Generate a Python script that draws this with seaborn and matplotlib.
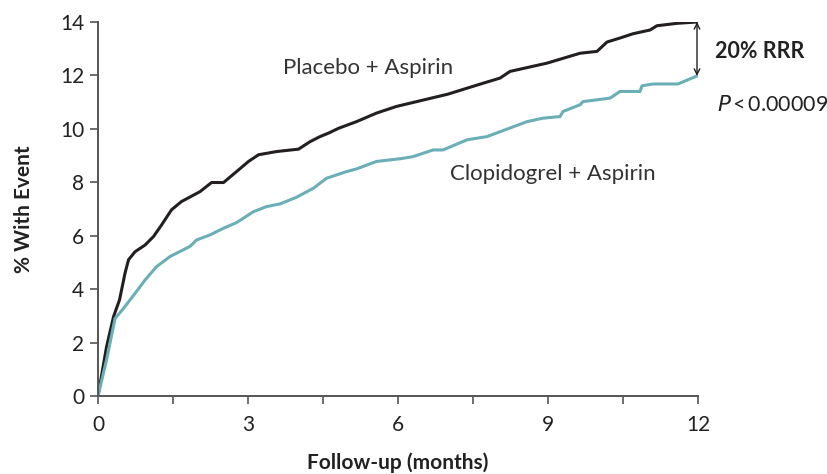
import pandas as pd
import numpy as np
import matplotlib.pyplot as plt
import seaborn as sns

# Kaplan-Meier style cumulative event curves
placebo_months = [0, 0.17, 0.31, 0.43, 0.54, 0.61, 0.74, 0.94, 1.11, 1.27, 1.47, 1.67,
                  2.04, 2.27, 2.51, 2.77, 3.01, 3.21, 3.57, 4.01, 4.24, 4.44, 4.61,
                  4.81, 5.17, 5.57, 5.97, 6.24, 7.0, 7.6, 8.04, 8.24, 8.98, 9.64,
                  9.98, 10.18, 10.44, 10.7, 11.04, 11.18, 11.58, 11.98]
placebo_pct = [0, 1.84, 2.97, 3.6, 4.6, 5.1, 5.4, 5.65, 5.97, 6.4, 6.97, 7.28,
               7.65, 7.99, 7.99, 8.4, 8.78, 9.03, 9.15, 9.24, 9.52, 9.71, 9.84,
               10.02, 10.27, 10.59, 10.84, 10.96, 11.3, 11.65, 11.9, 12.15, 12.46, 12.83,
               12.9, 13.25, 13.4, 13.56, 13.7, 13.86, 13.95, 14.0]

clopi_months = [0, 0.17, 0.34, 0.51, 0.74, 0.94, 1.17, 1.44, 1.84, 1.97, 2.24, 2.51, 2.77,
                3.11, 3.37, 3.64, 3.97, 4.31, 4.57, 4.97, 5.17, 5.57, 6.04, 6.3,
                6.7, 6.9, 7.38, 7.78, 8.58, 8.9, 9.24, 9.3, 9.64, 9.7, 10.24,
                10.44, 10.84, 10.88, 11.1, 11.6, 11.98]
clopi_pct = [0, 1.35, 2.9, 3.28, 3.84, 4.34, 4.84, 5.22, 5.6, 5.84, 6.03, 6.28, 6.49,
             6.9, 7.09, 7.19, 7.44, 7.78, 8.15, 8.4, 8.5, 8.78, 8.88, 8.96,
             9.21, 9.21, 9.59, 9.71, 10.27, 10.4, 10.46, 10.65, 10.9, 11.02, 11.15,
             11.4, 11.4, 11.61, 11.68, 11.68, 11.98]

x_ticks = [0, 1.5, 3, 4.5, 6, 7.5, 9, 10.5, 12]
x_tick_labels = ["0", "", "3", "", "6", "", "9", "", "12"]
y_ticks = [0, 2, 4, 6, 8, 10, 12, 14]

df = pd.concat([
    pd.DataFrame({"month": placebo_months, "pct": placebo_pct, "arm": "Placebo + Aspirin"}),
    pd.DataFrame({"month": clopi_months, "pct": clopi_pct, "arm": "Clopidogrel + Aspirin"}),
])

sns.set_style("ticks")
plt.rcParams['font.family'] = ['Lato', 'DejaVu Sans']

dark = "#231f20"
teal = "#6aafb6"
axis_grey = "#555555"

fig = plt.figure(figsize=(8.28, 4.74), dpi=100)
ax = fig.add_axes([0.1184, 0.1646, 0.7246, 0.789])

sns.lineplot(data=df, x="month", y="pct", hue="arm",
             palette={"Placebo + Aspirin": dark, "Clopidogrel + Aspirin": teal},
             linewidth=2.2, legend=False, ax=ax, estimator=None, sort=False)

ax.set_xlim(0, 12)
ax.set_ylim(0, 14)
ax.set_xticks(x_ticks)
ax.set_xticklabels(x_tick_labels)
ax.set_yticks(y_ticks)
ax.tick_params(axis="both", labelsize=15, colors=axis_grey, labelcolor="#222222",
               length=6, width=1.2, direction="out")
ax.tick_params(axis="x", pad=8)
ax.tick_params(axis="y", pad=4)
for side in ["top", "right"]:
    ax.spines[side].set_visible(False)
for side in ["left", "bottom"]:
    ax.spines[side].set_color(axis_grey)
    ax.spines[side].set_linewidth(1.4)

ax.set_xlabel("Follow-up (months)", fontsize=15, fontweight="bold", color="#222222", labelpad=12)
ax.set_ylabel("% With Event", fontsize=15, fontweight="bold", color="#222222", labelpad=19)

ax.text(5.4, 12.28, "Placebo + Aspirin", fontsize=16, color="#333333", ha="center", va="center")
ax.text(9.1, 8.31, "Clopidogrel + Aspirin", fontsize=16, color="#333333", ha="center", va="center")

ax.annotate("", xy=(11.98, 14.0), xytext=(11.98, 11.98),
            arrowprops=dict(arrowstyle="<->", color=dark, lw=1.0, shrinkA=0, shrinkB=0),
            annotation_clip=False)
ax.text(13.24, 12.88, "20% RRR", fontsize=15.5, fontweight="bold", color="#222222",
        ha="center", va="center", clip_on=False)
ax.text(13.5, 10.9, r"$P$" + "\u2009<\u20090.00009", fontsize=15.5, color="#222222",
        ha="center", va="center", clip_on=False)

plt.savefig("out.png", dpi=100)
